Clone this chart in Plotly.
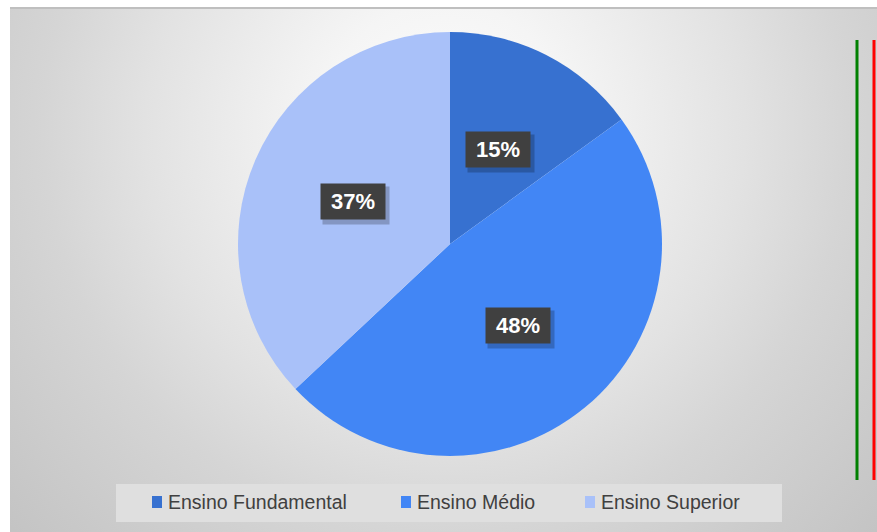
import math
import plotly.graph_objects as go

# Escolaridade - share of each education level
categories = ["Ensino Fundamental", "Ensino Médio", "Ensino Superior"]
shares = [15, 48, 37]
slice_colors = ["#3771d0", "#4286f5", "#a9c1f9"]

W, H = 877, 532
LEFT, TOP = 10, 7          # white border around the chart frame
CX, CY, R = 450, 244, 212  # pie centre / radius in pixels

fig = go.Figure()

# Background: soft radial gradient, light in the upper middle, grey towards the edges
GX, GY, GS = 445, 130, 600
fig.add_trace(go.Scatter(
    x=[GX - GS, GX + GS, GX + GS, GX - GS, GX - GS],
    y=[GY - GS, GY - GS, GY + GS, GY + GS, GY - GS],
    mode="lines", fill="toself", line=dict(width=0),
    fillgradient=dict(type="radial", colorscale=[
        [0.0, "#fdfdfd"], [0.21, "#f5f5f5"], [0.5, "#e2e2e2"],
        [0.67, "#d5d5d5"], [0.74, "#d1d1d1"], [0.98, "#c4c4c4"],
        [1.0, "#c3c3c3"]]),
    hoverinfo="skip", showlegend=False,
))

fig.add_trace(go.Pie(
    labels=categories, values=shares, sort=False, direction="clockwise",
    rotation=0, marker=dict(colors=slice_colors, line=dict(width=0)),
    textinfo="none", hoverinfo="label+percent", showlegend=False,
    domain=dict(x=[(CX - R) / W, (CX + R) / W],
                y=[(H - CY - R) / H, (H - CY + R) / H]),
))

# Percentage labels in dark boxes, placed halfway along each slice's mid-angle
total = sum(shares)
start = 0.0
for v in shares:
    mid = (start + v / 2) / total * 2 * math.pi
    start += v
    lx = CX + 0.5 * R * math.sin(mid)
    ly = CY - 0.5 * R * math.cos(mid)
    label = f"{round(v / total * 100)}%"
    fig.add_annotation(x=lx, y=ly, xref="x", yref="y", text=" ",
                       showarrow=False, width=66, height=37, xshift=3, yshift=-4,
                       bgcolor="rgba(0,0,0,0.22)", borderpad=0)
    fig.add_annotation(x=lx, y=ly, xref="x", yref="y", text=f"<b>{label}</b>",
                       showarrow=False, width=64, height=35,
                       bgcolor="#404040", borderpad=0,
                       font=dict(family="Liberation Sans, Arial", size=22, color="white"))

# Legend panel drawn by hand: light box, colour squares and labels
LEG_BOX = (116, 484, 782, 522)
LEG_X = [152, 401, 585]
LEG_Y = 502
fig.add_shape(type="rect", xref="x", yref="y", x0=LEG_BOX[0], x1=LEG_BOX[2],
              y0=LEG_BOX[1], y1=LEG_BOX[3], fillcolor="#dfdfdf",
              line=dict(width=0), layer="above")
for name, col, lx0 in zip(categories, slice_colors, LEG_X):
    fig.add_shape(type="rect", xref="x", yref="y", x0=lx0, x1=lx0 + 10,
                  y0=LEG_Y - 6, y1=LEG_Y + 6, fillcolor=col, line=dict(width=0),
                  layer="above")
    fig.add_annotation(x=lx0 + 16, y=LEG_Y, xref="x", yref="y", text=name,
                       showarrow=False, xanchor="left", yanchor="middle",
                       xshift=-1, borderpad=0,
                       font=dict(family="Liberation Sans, Arial", size=19.5,
                                 color="#404040"))

# White page border on the left and top, and the frame's top edge
fig.add_shape(type="rect", xref="x", yref="y", x0=0, x1=LEFT, y0=0, y1=H,
              fillcolor="white", line=dict(width=0), layer="above")
fig.add_shape(type="rect", xref="x", yref="y", x0=0, x1=W, y0=0, y1=TOP,
              fillcolor="white", line=dict(width=0), layer="above")
fig.add_shape(type="line", xref="x", yref="y", x0=LEFT, x1=W, y0=TOP + 1, y1=TOP + 1,
              line=dict(color="#bfbfbf", width=2), layer="above")
fig.add_shape(type="line", xref="x", yref="y", x0=W - 3, x1=W - 3, y0=40, y1=480,
              line=dict(color="red", width=3), layer="above")
fig.add_shape(type="line", xref="x", yref="y", x0=W - 20, x1=W - 20, y0=40, y1=480,
              line=dict(color="green", width=3), layer="above")

fig.update_layout(
    width=W, height=H,
    margin=dict(l=0, r=0, t=0, b=0, pad=0),
    paper_bgcolor="#ff80c0", plot_bgcolor="#cdcdcd",
    xaxis=dict(visible=False, range=[0, W], fixedrange=True),
    yaxis=dict(visible=False, range=[H, 0], fixedrange=True),
    showlegend=False,
)

fig.write_html("out.html")
